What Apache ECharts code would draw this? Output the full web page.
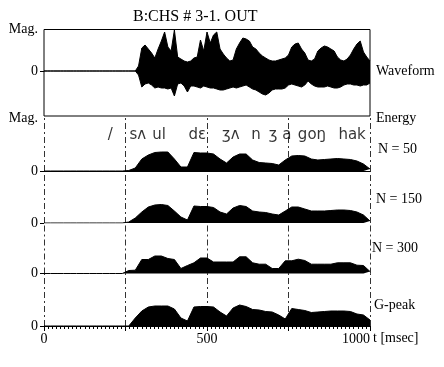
<!DOCTYPE html>
<html>
<head>
<meta charset="utf-8">
<script src="https://cdn.jsdelivr.net/npm/echarts@6/dist/echarts.min.js"></script>
<style>
  html, body { margin: 0; padding: 0; background: #fff; }
  #chart { width: 444px; height: 367px; }
</style>
</head>
<body>
<div id="chart"></div>
<script>
// 波形: 10 ms 间隔, 上下包络
const waveTimes = [0,10,20,30,40,50,60,70,80,90,100,110,120,130,140,150,160,170,180,190,200,210,220,230,240,250,260,270,280,290,300,310,320,330,340,350,360,370,380,390,400,410,420,430,440,450,460,470,480,490,500,510,520,530,540,550,560,570,580,590,600,610,620,630,640,650,660,670,680,690,700,710,720,730,740,750,760,770,780,790,800,810,820,830,840,850,860,870,880,890,900,910,920,930,940,950,960,970,980,990,1000]
const waveUpper = [0,0,0,0,0,0,0,0,0,0,0,0,0,0,0,0,0,0,0,0,0,0,0,0,0,0,0,0,0,
  5,23,26,22,18,13,22,30,39,24,20,41,14,12,10,9,10,13,14,31,20,39,28,36,39,22,17,13,10,11,22,28,33,32,30,24,22,18,15,13,11,10,10,11,12,13,16,24,27,28,22,18,11,10,12,20,23,25,24,22,20,14,11,10,12,16,22,27,30,19,14,10]
const waveLower = [0,0,0,0,0,0,0,0,0,0,0,0,0,0,0,0,0,0,0,0,0,0,0,0,0,0,0,0,0,
  -4,-16,-13,-12,-14,-17,-16,-17,-17,-18,-17,-25,-13,-12,-15,-21,-15,-15,-16,-17,-15,-16,-17,-17,-18,-19,-19,-18,-17,-16,-17,-16,-15,-14,-16,-18,-19,-21,-23,-24,-22,-19,-18,-18,-18,-17,-14,-13,-14,-15,-16,-14,-10,-13,-15,-16,-16,-16,-15,-16,-17,-17,-16,-14,-13,-13,-14,-14,-15,-14,-14,-12]

// 能量: 20 ms 间隔
const energyTimes = [0,20,40,60,80,100,120,140,160,180,200,220,240,260,280,300,320,340,360,380,400,420,440,460,480,500,520,540,560,580,600,620,640,660,680,700,720,740,760,780,800,820,840,860,880,900,920,940,960,980,1000]
const energyN50 = [0,0,0,0,0,0,0,0,0,0,0,0,0,
  0.5,3,12,16,18.5,19,19,12,4,4,18.5,18,18,17,12,8,14,17,17,11,8.5,8,7.5,6,11,15,15.5,15,12,11,11.5,12,12.5,12,11.5,10,7,2]
const energyN150 = [0,0,0,0,0,0,0,0,0,0,0,0,0,
  1,5,11,16,18,18.5,17.5,12,6,3,17,16.5,16.5,15.5,11,9,15,17.5,16.5,12,11,10.5,9,8,12,16,16,14,12,12,12,12.5,13,13,12.5,11,8,2]
const energyN300 = [0,0,0,0,0,0,0,0,0,0,0,0,0,
  3,3.3,14,14,17.5,17.5,15,14,5,8,10.7,15.5,15.5,11.5,11.5,11.5,11.5,16.7,16.7,10.7,9.3,9.3,5,5,12.7,12.7,14.3,13,9.3,9.3,9.3,9.3,10.7,10.7,10.7,8.3,8,2]
const energyGpeak = [0,0,0,0,0,0,0,0,0,0,0,0,0,
  0,8,15,19,20,20,20,17,8,5,19,19.5,19.5,19,14,10,18,21,19.5,16.5,16,14.5,14,11,7,17.5,16.5,15.5,13.5,14,14.5,15,15,15,14.5,12,11,6]

// 音标 (时间位置, 文字)
const phoneTimes = [203, 288, 353, 470, 573, 650, 703, 745, 822, 945]
const phoneTexts = ['/', 'sʌ', 'ul', 'dɛ', 'ʒʌ', 'n', 'ʒ', 'a', 'goŋ', 'hak']

const xTicks = [0, 500, 1000]
const segLines = [0, 250, 500, 750, 1000]

const serif = '"Liberation Serif", "DejaVu Serif", serif'

function pairs (xs, ys) {
  return xs.map((x, i) => [x, ys[i]])
}

const chart = echarts.init(document.getElementById('chart'))

// 能量子图的位置
const panels = [
  { name: 'N = 50', data: energyN50, top: 118, height: 53 },
  { name: 'N = 150', data: energyN150, top: 171, height: 52 },
  { name: 'N = 300', data: energyN300, top: 222.5, height: 51 },
  { name: 'G-peak', data: energyGpeak, top: 273.5, height: 52.5 }
]

const grid = [{ left: 44, right: 74, top: 29.5, height: 86.5, show: true, borderColor: '#000', borderWidth: 1 }]
const xAxis = [{ gridIndex: 0, type: 'value', min: 0, max: 1000, show: false }]
const yAxis = [{
  gridIndex: 0, type: 'value', min: -45, max: 41.5,
  axisLine: { show: false },
  splitLine: { show: false },
  axisTick: { show: true, customValues: [0], length: 4, lineStyle: { color: '#000' } },
  axisLabel: {
    customValues: [0, 41.5], margin: 6, color: '#000', fontFamily: serif, fontSize: 14,
    formatter: v => (v === 0 ? '0' : 'Mag.')
  }
}]
const series = [
  { type: 'line', xAxisIndex: 0, yAxisIndex: 0, data: pairs(waveTimes, waveUpper), symbol: 'none',
    lineStyle: { color: '#000', width: 1 }, areaStyle: { color: '#000', opacity: 1 } },
  { type: 'line', xAxisIndex: 0, yAxisIndex: 0, data: pairs(waveTimes, waveLower), symbol: 'none',
    lineStyle: { color: '#000', width: 1 }, areaStyle: { color: '#000', opacity: 1 } }
]

panels.forEach((p, k) => {
  const gi = k + 1
  const isLast = k === panels.length - 1
  grid.push({ left: 44, right: 74, top: p.top, height: p.height })
  if (k === 0) {
    xAxis.push({ gridIndex: gi, type: 'value', min: 0, max: 1000, position: 'top',
      axisLine: { show: true, lineStyle: { color: '#000', width: 1 } },
      axisTick: { show: false }, axisLabel: { show: false }, splitLine: { show: false } })
  } else if (isLast) {
    xAxis.push({ gridIndex: gi, type: 'value', min: 0, max: 1000, interval: 250,
      axisLine: { show: true, lineStyle: { color: '#000', width: 1 } },
      axisTick: { show: true, length: 5, lineStyle: { color: '#000' } },
      minorTick: { show: true, splitNumber: 20, length: 3, lineStyle: { color: '#000' } },
      splitLine: { show: false },
      axisLabel: { color: '#000', fontFamily: serif, fontSize: 14, margin: 6, alignMaxLabel: 'right',
        formatter: v => (xTicks.includes(v) ? String(v) : '') } })
  } else {
    xAxis.push({ gridIndex: gi, type: 'value', min: 0, max: 1000, show: false })
  }
  const labelVals = k === 0 ? [0, p.height] : [0]
  yAxis.push({ gridIndex: gi, type: 'value', min: 0, max: p.height,
    axisLine: { show: false }, splitLine: { show: false },
    axisTick: { show: true, customValues: [0], length: 4, lineStyle: { color: '#000' } },
    axisLabel: { customValues: labelVals, margin: 6, color: '#000', fontFamily: serif, fontSize: 14,
      formatter: v => (v === 0 ? '0' : 'Mag.') } })
  series.push({
    type: 'line', xAxisIndex: gi, yAxisIndex: gi, data: pairs(energyTimes, p.data), symbol: 'none',
    lineStyle: { color: '#000', width: 1 }, areaStyle: { color: '#000', opacity: 1 },
    markLine: {
      silent: true, symbol: ['none', 'none'], label: { show: false },
      lineStyle: { color: '#000', width: 1, type: [6, 3, 2, 3], opacity: 0.8 },
      data: segLines.map(v => ({ xAxis: v }))
    }
  })
})

// 音标文字
series.push({
  type: 'scatter', xAxisIndex: 1, yAxisIndex: 1, symbolSize: 0,
  data: pairs(phoneTimes, phoneTimes.map(() => 36)),
  label: { show: true, position: 'inside', color: '#000', fontFamily: '"DejaVu Sans", sans-serif', fontSize: 15,
    formatter: (d) => phoneTexts[d.dataIndex] }
})

const sideLabels = [
  { text: 'Waveform', left: 376, top: 64 },
  { text: 'Energy', left: 376, top: 111 },
  { text: 'N = 50', left: 378, top: 142 },
  { text: 'N = 150', left: 376, top: 192 },
  { text: 'N = 300', left: 372, top: 241 },
  { text: 'G-peak', left: 374, top: 298 },
  { text: 't [msec]', left: 373, top: 331 }
]

chart.setOption({
  animation: false,
  backgroundColor: '#fff',
  title: {
    text: 'B:CHS # 3-1. OUT', left: 128, top: 4,
    textStyle: { color: '#000', fontFamily: serif, fontSize: 16, fontWeight: 'normal' }
  },
  grid,
  xAxis,
  yAxis,
  series,
  graphic: sideLabels.map(s => ({
    type: 'text', left: s.left, top: s.top,
    style: { text: s.text, fill: '#000', font: '14px ' + serif }
  }))
})
</script>
</body>
</html>
